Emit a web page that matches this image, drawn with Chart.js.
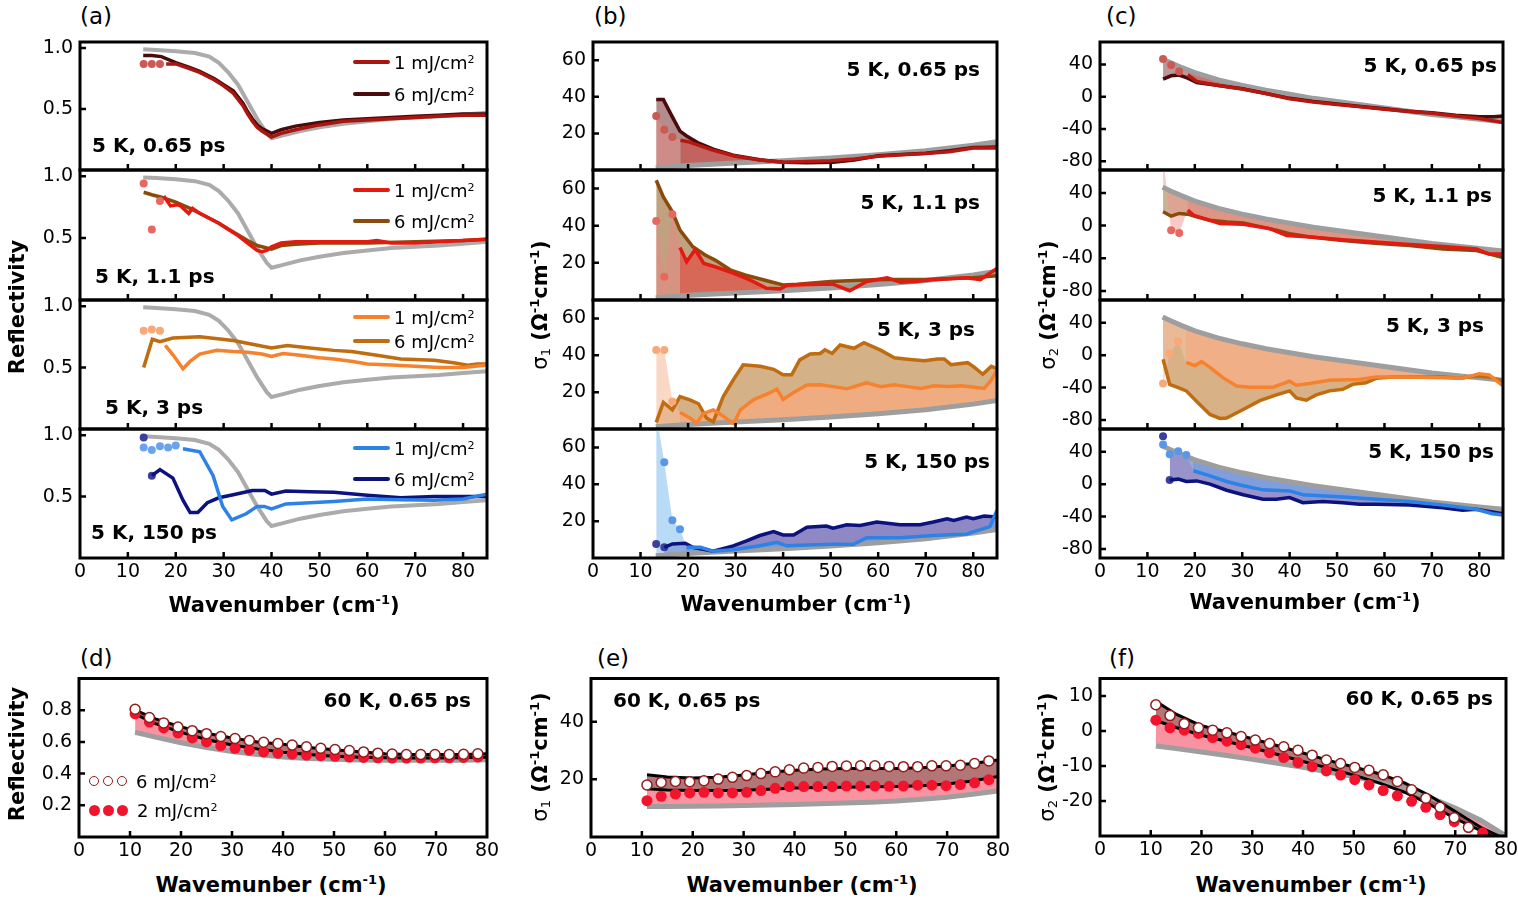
<!DOCTYPE html>
<html>
<head>
<meta charset="utf-8">
<script src="https://cdn.jsdelivr.net/npm/chart.js@4.4.1/dist/chart.umd.min.js"></script>
<style>
html,body{margin:0;padding:0;background:#fff}
body{position:relative;width:1518px;height:905px;overflow:hidden;font-family:'DejaVu Sans',sans-serif;color:#000}
canvas{position:absolute;z-index:1}
.t{position:absolute;white-space:nowrap;line-height:1;z-index:2}
.ann{font-weight:bold;font-size:20px}
.lab{font-size:23px}
.ttl{font-weight:bold;font-size:21px}
.lg{font-size:18px}
.bar{position:absolute;height:4px;width:37px;z-index:2;border-radius:2px}
.dot{position:absolute;width:10px;height:10px;border-radius:50%;box-sizing:border-box;z-index:2}
sup{font-size:0.62em;vertical-align:0.55em;line-height:0}
sub{font-size:0.62em;vertical-align:-0.25em;line-height:0}
.n{font-weight:normal}
</style>
</head>
<body>
<script>
// ---------------- DATA ----------------
// tick values
const xTicks = [0,10,20,30,40,50,60,70,80];
const aTicks = [0.5,1.0];
const bTicks = [20,40,60];
const cTicks = [-80,-40,0,40];
const dTicks = [0.2,0.4,0.6,0.8];
const eTicks = [20,40];
const fTicks = [-20,-10,0,10];
const delays = ['0.65 ps','1.1 ps','3 ps','150 ps'];

// Panel (a): reflectivity, 5 K
const grayRx = [13.2,16,20,24,27,29,31,33,35,37,39,40,42,46,50,55,60,65,70,75,80,85];
const grayR  = [0.99,0.985,0.975,0.96,0.93,0.88,0.80,0.70,0.56,0.42,0.30,0.26,0.28,0.32,0.35,0.38,0.40,0.42,0.43,0.44,0.455,0.47];

const a1_6x = [13.2,15,17,20,23,25,28,30,32,34,35,36,37,38,40,42,45,50,55,60,65,70,75,80,85];
const a1_6  = [0.94,0.94,0.93,0.88,0.84,0.81,0.75,0.70,0.65,0.55,0.48,0.42,0.37,0.34,0.30,0.33,0.36,0.39,0.41,0.42,0.43,0.44,0.45,0.46,0.46];
const a1_1x = [18,20,23,25,28,30,32,34,35,36,37,38,40,42,45,50,55,60,65,70,75,80,85];
const a1_1  = [0.87,0.87,0.83,0.80,0.74,0.69,0.63,0.53,0.46,0.40,0.35,0.32,0.27,0.30,0.33,0.37,0.40,0.41,0.42,0.43,0.44,0.45,0.45];
const a1_1dx = [13.3,15,16.7];
const a1_1d  = [0.87,0.87,0.87];

const a2_6x = [13.3,15,17,20,23,26,29,32,35,37,40,42,45,50,60,70,80,85];
const a2_6  = [0.87,0.85,0.83,0.79,0.74,0.68,0.62,0.55,0.48,0.44,0.41,0.44,0.45,0.46,0.46,0.47,0.48,0.49];
const a2_1x = [17.5,18.9,20.3,21,22.7,23.5,25,27,29,31,33,35,37,38,39,40,42,45,50,55,60,62,65,70,75,80,85];
const a2_1  = [0.84,0.76,0.77,0.76,0.70,0.74,0.70,0.66,0.62,0.57,0.52,0.46,0.40,0.39,0.40,0.43,0.46,0.47,0.47,0.47,0.47,0.48,0.46,0.46,0.47,0.48,0.49];
const a2_1dx = [13.3,15,16.7];
const a2_1d  = [0.94,0.57,0.80];

const a3_6x = [13.3,15.1,16.7,19.4,25,32,36,40,43.3,48,53,56.7,62,67,74,78,81,83,85];
const a3_6  = [0.50,0.73,0.71,0.74,0.75,0.72,0.69,0.66,0.68,0.66,0.64,0.63,0.60,0.57,0.56,0.54,0.52,0.53,0.53];
const a3_1x = [17.8,19.5,21.5,23,25,28.6,32,35,38,40,42.4,46,50,53,57,60,65,70,75,80,85];
const a3_1  = [0.68,0.60,0.49,0.55,0.61,0.64,0.63,0.625,0.61,0.59,0.615,0.60,0.58,0.57,0.55,0.53,0.52,0.51,0.50,0.50,0.52];
const a3_1dx = [13.3,15,16.7];
const a3_1d  = [0.80,0.81,0.80];

const a4_6x = [15,16.7,19.4,21.5,23,24.6,26.6,29,32,36,38.6,40,43,48,53,60,67,74,80,85];
const a4_6  = [0.67,0.72,0.65,0.47,0.37,0.37,0.45,0.49,0.515,0.55,0.55,0.52,0.545,0.54,0.535,0.51,0.49,0.50,0.50,0.50];
const a4_6dx = [13.3,15];
const a4_6d  = [0.98,0.67];
const a4_1x = [21.5,25,27.8,29.8,31.7,34.7,37,38.5,40,43,48,53,60,67,74,80,85];
const a4_1  = [0.89,0.865,0.67,0.42,0.31,0.36,0.42,0.42,0.40,0.44,0.45,0.46,0.48,0.475,0.47,0.48,0.52];
const a4_1dx = [13.3,15,16.7,18.4,20];
const a4_1d  = [0.90,0.88,0.91,0.90,0.915];

// Panel (b): sigma1, 5 K
const grayS1x = [13.2,20,30,40,50,60,70,80,85];
const grayS1  = [1.2,2.5,3.8,5.0,6.5,8.3,10.5,13.5,15.5];

const b1_6x = [13.3,14.8,16.5,18.3,19.7,22,25.3,29.5,35.1,40,45,50.5,55,60,65,70,75,80,85];
const b1_6  = [38.5,38.5,30,21.3,18.6,15,11.4,8.1,5.6,4.2,4.0,4.3,5.5,7.8,8.5,9.2,10.5,12.3,12.5];
const b1_1x = [18.4,20,25,30,35,40,45,50,55,60,65,70,75,80,85];
const b1_1  = [16.3,15.5,11,7.5,5.5,4.3,4.6,5,6,7.5,8.3,9,10,12,12];
const b1_1dx = [13.3,15,16.7];
const b1_1d  = [29.5,22,18];

const b2_6x = [13.3,14.8,16.7,18.3,21,23.6,25.7,29,32,36,40,43,50,60,70,80,85];
const b2_6  = [64.5,55.5,47.5,37.6,28.7,24.2,21.5,16,13.5,10.8,8.1,8.5,10,11,11,12,13];
const b2_1x = [18.3,19.7,21.5,23.3,25.7,29.5,33,36.5,39.4,40.8,45,50.5,54,57.6,61.9,64.7,68,71.6,75,78.6,81.5,85];
const b2_1  = [28.3,20.6,27.2,19.7,17.9,14.5,10.8,6.3,6,8,8.5,8.5,5,10,12,9.5,10,11,11.5,12,11,17];
const b2_1dx = [13.3,15,16.7];
const b2_1d  = [42.6,12.5,46.2];

const b3_6x = [13.3,14.8,16.7,18.3,20.4,22.2,23.9,25.3,27.4,29.5,31.6,35.2,38,40,41.8,43.5,45.7,47.8,48.8,50.3,52,54.9,57,60.5,63.4,66.2,69.7,72.5,73.9,75.3,78.8,80.2,82,83.8,85];
const b3_6  = [3.6,14.4,10.4,17.6,15.8,13.7,5.9,3.8,17.6,26.6,34.8,34,32.4,29.4,29.4,37.5,40.7,41,43,41,45.6,43.8,46.8,42.8,38.6,37.9,37.1,38,38,34.9,36,33.6,29.7,34,32.8];
const b3_1x = [18.3,20.4,21.8,23.2,25.3,27.1,28.9,29.6,31,33.8,36.6,38.7,40,42.2,45,47.8,50.5,53.4,56.2,57.6,60.5,63.4,66.2,69,71.8,74.7,77.5,80.2,82.3,83.8,85];
const b3_1  = [9,6,3.2,8.3,10.4,7.5,4,3,10.4,16,18.9,21.6,16,19.8,23.9,24,23,21.8,24,25,23,24,23,22,23.4,23,23.4,22.7,22,26.6,32];
const b3_1dx = [13.3,15,16.7];
const b3_1d  = [42.9,42.9,14.9];

const b4_6x = [15,16.7,19.4,21,25.3,29.5,32.3,35.1,38,40,42.2,45,49.1,50.5,53.4,56.2,59.7,64.6,68.8,71.6,74.5,75.9,78.6,80,82.3,85];
const b4_6  = [5.8,7.6,8,5.8,3.7,6.6,9.3,12.2,14.3,12.5,12.5,16.7,17.3,16.2,18,17.6,19.5,18,18,19.5,21.3,20.4,22.2,21.3,22.8,22.2];
const b4_6dx = [13.3,15];
const b4_6d  = [7.6,5.8];
const b4_1x = [19.7,22.6,25.3,29.5,35.1,38.7,40.8,45,50.5,54.8,57.6,64.6,71.6,78.6,83.5,85];
const b4_1  = [5.8,5.8,3.7,4.5,6.6,8.5,6.6,7,7.4,7.4,11,11,12.2,13,17,26];
const b4_1dx = [13.3,15,16.7,18.3];
const b4_1d  = [78,52,20.5,15.6];

// Panel (c): sigma2, 5 K
const grayS2x = [13.2,15,17,20,25,30,35,40,45,50,55,60,65,70,75,80,85];
const grayS2  = [47,42,37,30,21,14,8,3,-2,-6,-10,-14,-18,-22,-25,-28,-31];

const c1_6x = [13.3,15,16.7,18.5,20.4,25,30,35,40,45,50,55,60,65,70,75,80,83,85];
const c1_6  = [22,26,27,23,17.7,14,10,4,-2,-6,-9,-12,-15,-18,-20,-23,-25,-25,-24];
const c1_1x = [18.5,20.4,25,30,35,40,45,50,55,60,65,70,75,80,85];
const c1_1  = [27,19,14,9.5,4,-2.5,-6.5,-9.5,-12.5,-15.5,-18,-20.5,-24,-27,-32];
const c1_1dx = [13.3,15,16.7];
const c1_1d  = [46.8,39.3,31.4];

const c2_6x = [13.3,15,16.7,18.5,20.4,23.2,26.8,30.2,37.4,40,44.4,51.2,58,65.3,72.3,79.4,85];
const c2_6  = [16.9,11.5,14.9,14,10.7,6.6,4.5,3.2,-5.8,-10,-14,-18.2,-21.5,-24.4,-28.6,-30.6,-39];
const c2_1x = [18.5,19.7,23,25.3,30.2,35.8,39.4,44.4,51.2,58,65.3,72.3,79.4,82,85];
const c2_1  = [19,12.8,6.6,2.5,1.6,-3.7,-12,-14,-17.4,-20,-23,-25.7,-28.6,-34.7,-34.7];
const c2_1dx = [13.3,15,16.7];
const c2_1d  = [85,-5.8,-9];

const c3_6x = [13.3,14.7,16.5,18.2,20.4,23.2,25.3,26.7,30.2,33.7,37.2,40,41.4,43.5,45.6,48.4,51.2,53.3,56.1,58.2,61.8,65.3,72.3,75.8,79.3,82.1,85];
const c3_6  = [-5,-36,-40,-44,-57,-73,-78,-77.4,-67,-56,-49,-44,-52.6,-55.5,-49,-44,-42,-36,-34,-28.5,-27,-27,-27,-28.5,-25.7,-27,-32];
const c3_1x = [18.2,20,21.4,23.2,26,28.8,31.6,36.5,40,41.4,44.2,48.4,54.7,58.2,65.3,72.3,76.5,80,82.1,85];
const c3_1  = [-9,-13,-8,-15,-28,-38,-39.4,-39.4,-32,-37,-35,-31,-30,-27,-27,-27.8,-28.5,-22.8,-24.3,-38];
const c3_1dx = [13.3,14.7,16.5];
const c3_1d  = [-35,2,17];

const c4_6x = [14.7,16.5,18.2,20.4,23.2,26.7,30.2,34.4,37.2,40,42.8,47,51.2,54.7,58.2,65.3,72.3,76.5,79.3,85];
const c4_6  = [5,6.2,3.3,4,0,-7.5,-13,-18.6,-18.6,-16.6,-22.8,-21.5,-22.8,-24.8,-24.8,-25.7,-29,-32,-31,-36.5];
const c4_6dx = [13.3,14.7];
const c4_6d  = [59,5];
const c4_1x = [19.7,23.2,26.7,30.2,34.4,40,42.8,51.2,58.2,65.3,72.3,79.3,82.8,85];
const c4_1  = [16.5,10.3,3.3,-2,-7,-8.3,-13,-15.7,-18.6,-21.5,-25.7,-31,-36.5,-38];
const c4_1dx = [13.3,14.7,16.5,18.2];
const c4_1d  = [48.8,37,40.5,36];

// Panels (d)-(f): 60 K, 0.65 ps
const wnD = [11.0,13.8,16.6,19.4,22.2,25.0,27.8,30.6,33.4,36.2,39.0,41.8,44.6,47.4,50.2,53.0,55.8,58.6,61.4,64.2,67.0,69.8,72.6,75.4,78.2];
const fitX = [11,15,20,25,30,35,40,45,50,55,60,65,70,75,80];

const d6 = [0.806,0.754,0.72,0.694,0.671,0.652,0.634,0.621,0.609,0.598,0.59,0.58,0.569,0.56,0.552,0.546,0.537,0.529,0.523,0.52,0.52,0.52,0.52,0.522,0.525];
const d2 = [0.777,0.725,0.688,0.656,0.625,0.60,0.577,0.56,0.548,0.537,0.529,0.523,0.517,0.513,0.509,0.504,0.502,0.50,0.498,0.498,0.498,0.50,0.50,0.502,0.504];
const dFit6 = [0.80,0.745,0.695,0.655,0.625,0.60,0.585,0.565,0.55,0.538,0.525,0.52,0.52,0.52,0.525];
const dFit2 = [0.775,0.715,0.66,0.615,0.58,0.555,0.535,0.52,0.51,0.503,0.50,0.498,0.498,0.50,0.503];
const dGray = [0.66,0.63,0.595,0.565,0.54,0.52,0.505,0.495,0.49,0.486,0.484,0.484,0.484,0.485,0.487];

const e6 = [18.05,18.9,19.3,19.2,19.5,20.1,20.7,21.3,22,22.6,23.3,23.9,24.1,24.5,24.6,24.7,24.7,24.5,24.4,24.4,24.7,24.7,24.9,25.5,26.4];
const e2 = [12.6,14.1,14.9,15.3,15.5,15.3,15.3,15.5,16.1,16.9,17.5,17.5,17.5,17.5,17.7,17.7,17.7,17.6,17.7,18,18,17.8,18.2,18.8,19.9];
const eFit6 = [21.6,20.8,20.5,20.7,21.5,22.5,23.2,23.6,23.8,23.8,23.8,24,24.6,25.5,26.7];
const eFit2 = [16.7,16.3,16.1,16.1,16.2,16.6,17,17.2,17.3,17.4,17.5,17.8,18.4,19.4,21];
const eGray = [10.6,10.6,10.7,10.8,10.9,11.1,11.3,11.5,11.8,12.1,12.5,13.1,13.8,14.8,16];

const f6 = [7.5,4.4,2.1,0.9,0.25,-0.5,-1.6,-2.6,-3.6,-4.5,-5.5,-6.9,-8.3,-9.3,-10.4,-11.2,-12.5,-14.4,-16.8,-19.2,-21.8,-24.8,-27.5];
const f2 = [3.1,0.9,0.25,-0.7,-1.9,-2.9,-3.9,-4.9,-6.2,-7.6,-9,-10.2,-11.4,-12.6,-13.9,-15.4,-17,-18.5,-20.1,-21.8,-23.9,-25.9,-27.6,-29.1];
const fFit6 = [8.5,4.8,1.5,-0.3,-2.2,-4.2,-6.3,-8.4,-10.3,-12.2,-14.8,-18.5,-23,-27.5,-31];
const fFit2 = [3,1,-1.2,-3,-4.8,-6.7,-8.7,-10.6,-12.6,-14.8,-17.5,-21,-25,-28.5,-32];
const fGray = [-4.3,-5,-6,-7,-8.1,-9.2,-10.4,-11.7,-13,-14.6,-16.5,-19,-22,-25.5,-30];

// ---------------- RENDERING ----------------
const FONT = "'DejaVu Sans', sans-serif";
const TICK = 19;
Chart.defaults.font.family = FONT;

const framePlugin = {
  id: 'frame',
  afterDatasetsDraw(chart) {
    const {ctx, chartArea: a, scales: {x, y}} = chart;
    ctx.save();
    ctx.strokeStyle = '#000';
    ctx.lineWidth = 2.5;
    ctx.beginPath();
    x.ticks.forEach(t => { const px = x.getPixelForValue(t.value); if (px > a.left + 3 && px < a.right - 3) { ctx.moveTo(px, a.bottom); ctx.lineTo(px, a.bottom - 6); } });
    y.ticks.forEach(t => { const py = y.getPixelForValue(t.value); if (py > a.top + 3 && py < a.bottom - 3) { ctx.moveTo(a.left, py); ctx.lineTo(a.left + 6, py); } });
    ctx.stroke();
    ctx.lineWidth = 3;
    ctx.strokeRect(a.left, a.top, a.right - a.left, a.bottom - a.top);
    ctx.restore();
  }
};

function ds(xs, ys, o) {
  return Object.assign({
    data: xs.map((x, i) => ({x: x, y: ys[i]})),
    pointRadius: 0, borderWidth: 0, borderColor: 'transparent',
    backgroundColor: 'transparent', fill: false, tension: 0
  }, o);
}

function makeChart(rect, cfg, datasets) {
  const LW = 52, PT = 5, PR = cfg.showX ? 18 : 5, BH = cfg.showX ? 34 : 5;
  const cv = document.createElement('canvas');
  cv.width = rect.w + LW + PR; cv.height = rect.h + PT + BH;
  cv.style.left = (rect.l - LW) + 'px'; cv.style.top = (rect.t - PT) + 'px';
  cv.style.width = cv.width + 'px'; cv.style.height = cv.height + 'px';
  document.body.appendChild(cv);
  new Chart(cv, {
    type: 'line',
    data: {datasets: datasets},
    options: {
      responsive: false, animation: false, devicePixelRatio: 1, events: [],
      layout: {padding: {left: 0, right: PR, top: PT, bottom: 0}},
      plugins: {legend: {display: false}, tooltip: {enabled: false},
                filler: {drawTime: 'beforeDatasetsDraw', propagate: false}},
      scales: {
        x: {type: 'linear', min: 0, max: cfg.xmax,
            grid: {display: false, drawTicks: false}, border: {display: false},
            ticks: {display: !!cfg.showX, autoSkip: false, maxRotation: 0, padding: 3, color: '#000',
                    font: {size: TICK, family: FONT}, callback: v => String(v)},
            afterBuildTicks(s) { s.ticks = xTicks.map(v => ({value: v})); },
            afterFit(s) { s.height = BH; s.paddingLeft = 0; s.paddingRight = 0; }},
        y: {type: 'linear', min: cfg.ymin, max: cfg.ymax,
            grid: {display: false, drawTicks: false}, border: {display: false},
            ticks: {autoSkip: false, padding: 7, color: '#000', font: {size: TICK, family: FONT},
                    callback: cfg.yfmt},
            afterBuildTicks(s) { s.ticks = cfg.yticks.map(v => ({value: v})); },
            afterFit(s) { s.width = LW; s.paddingTop = 0; s.paddingBottom = 0; }}
      }
    },
    plugins: [framePlugin]
  });
}

// top-row panel: 0 line1, 1 dots1, 2 line6, 3 dots6, 4 gray
function topSets(S, gx, gy, gcol, gw) {
  const sets = [];
  sets.push(ds(S.x1, S.y1, {borderColor: S.c1, borderWidth: 3.5, fill: S.f1 ? 4 : false, backgroundColor: S.f1 || 'transparent'}));
  const jx = S.fd1 ? S.dx1.concat([S.x1[0]]) : S.dx1;
  const jy = S.fd1 ? S.dy1.concat([S.y1[0]]) : S.dy1;
  sets.push(ds(jx, jy, {pointRadius: jx.map((_, i) => i < S.dx1.length ? 4 : 0), pointBackgroundColor: S.dc1,
                        pointBorderWidth: 0, fill: S.fd1 ? 4 : false, backgroundColor: S.fd1 || 'transparent'}));
  sets.push(ds(S.x6, S.y6, {borderColor: S.c6, borderWidth: 3.5, fill: S.f6 ? 4 : false, backgroundColor: S.f6 || 'transparent'}));
  const dx6 = S.dx6 || [], dy6 = S.dy6 || [];
  sets.push(ds(dx6, dy6, {pointRadius: 4, pointBackgroundColor: S.dc6 || S.c6, pointBorderWidth: 0}));
  sets.push(ds(gx, gy, {borderColor: gcol, borderWidth: gw}));
  return sets;
}

const rowT = [42, 170, 300, 429], rowH = [128, 130, 129, 129];
const colA = {l: 80, w: 407}, colB = {l: 593, w: 404}, colC = {l: 1100, w: 403};

const fmt1 = v => v.toFixed(1);
const fmtI = v => String(Math.round(v));

// ---- column (a)
const aS = [
  {x1: a1_1x, y1: a1_1, dx1: a1_1dx, dy1: a1_1d, c1: '#a8160f', dc1: '#cc5a52', x6: a1_6x, y6: a1_6, c6: '#4b0a0c'},
  {x1: a2_1x, y1: a2_1, dx1: a2_1dx, dy1: a2_1d, c1: '#e31a10', dc1: '#e86860', x6: a2_6x, y6: a2_6, c6: '#8a4a0c'},
  {x1: a3_1x, y1: a3_1, dx1: a3_1dx, dy1: a3_1d, c1: '#f7822e', dc1: '#f9a878', x6: a3_6x, y6: a3_6, c6: '#c06c10'},
  {x1: a4_1x, y1: a4_1, dx1: a4_1dx, dy1: a4_1d, c1: '#2d82e6', dc1: '#6aa4ee', x6: a4_6x, y6: a4_6, c6: '#0c137f', dx6: a4_6dx, dy6: a4_6d, dc6: '#3d3f9a'}
];
aS.forEach((S, i) => makeChart({l: colA.l, w: colA.w, t: rowT[i], h: rowH[i]},
  {xmax: 85, ymin: 0, ymax: 1.05, yticks: aTicks, yfmt: fmt1, showX: i === 3},
  topSets(S, grayRx, grayR, '#ababab', 4)));

// ---- column (b)
const bS = [
  {x1: b1_1x, y1: b1_1, dx1: b1_1dx, dy1: b1_1d, c1: '#b8170f', dc1: '#cc5a52', f1: 'rgba(200,85,80,0.75)', fd1: 'rgba(228,140,135,0.55)',
   x6: b1_6x, y6: b1_6, c6: '#4b0a0c', f6: 'rgba(105,25,25,0.5)'},
  {x1: b2_1x, y1: b2_1, dx1: b2_1dx, dy1: b2_1d, c1: '#e31a10', dc1: '#e86860', f1: 'rgba(225,80,70,0.7)', fd1: 'rgba(235,135,130,0.55)',
   x6: b2_6x, y6: b2_6, c6: '#8a4a0c', f6: 'rgba(140,85,25,0.55)'},
  {x1: b3_1x, y1: b3_1, dx1: b3_1dx, dy1: b3_1d, c1: '#f7822e', dc1: '#f9a878', f1: 'rgba(246,172,128,0.85)', fd1: 'rgba(246,190,160,0.6)',
   x6: b3_6x, y6: b3_6, c6: '#c06c10', f6: 'rgba(185,125,55,0.6)'},
  {x1: b4_1x, y1: b4_1, dx1: b4_1dx, dy1: b4_1d, c1: '#2d82e6', dc1: '#5a96ea', f1: 'rgba(100,170,240,0.45)', fd1: 'rgba(140,195,238,0.6)',
   x6: b4_6x, y6: b4_6, c6: '#0c137f', f6: 'rgba(50,40,150,0.55)', dx6: b4_6dx, dy6: b4_6d, dc6: '#3d3f9a'}
];
bS.forEach((S, i) => makeChart({l: colB.l, w: colB.w, t: rowT[i], h: rowH[i]},
  {xmax: 85, ymin: 0, ymax: 70, yticks: bTicks, yfmt: fmtI, showX: i === 3},
  topSets(S, grayS1x, grayS1, '#9e9e9e', 5)));

// ---- column (c)
const cS = [
  {x1: c1_1x, y1: c1_1, dx1: c1_1dx, dy1: c1_1d, c1: '#b8170f', dc1: '#cc5a52', f1: 'rgba(205,95,90,0.6)', fd1: 'rgba(228,140,135,0.5)',
   x6: c1_6x, y6: c1_6, c6: '#4b0a0c', f6: 'rgba(105,25,25,0.45)'},
  {x1: c2_1x, y1: c2_1, dx1: c2_1dx, dy1: c2_1d, c1: '#e31a10', dc1: '#e86860', f1: 'rgba(238,125,120,0.55)', fd1: 'rgba(240,150,145,0.5)',
   x6: c2_6x, y6: c2_6, c6: '#8a4a0c', f6: 'rgba(140,85,25,0.45)'},
  {x1: c3_1x, y1: c3_1, dx1: c3_1dx, dy1: c3_1d, c1: '#f7822e', dc1: '#f9a878', f1: 'rgba(246,175,135,0.8)', fd1: 'rgba(246,190,160,0.6)',
   x6: c3_6x, y6: c3_6, c6: '#c06c10', f6: 'rgba(190,125,55,0.6)'},
  {x1: c4_1x, y1: c4_1, dx1: c4_1dx, dy1: c4_1d, c1: '#2d82e6', dc1: '#5a96ea', f1: 'rgba(100,170,240,0.45)', fd1: 'rgba(140,195,238,0.55)',
   x6: c4_6x, y6: c4_6, c6: '#0c137f', f6: 'rgba(50,40,150,0.5)', dx6: c4_6dx, dy6: c4_6d, dc6: '#3d3f9a'}
];
cS.forEach((S, i) => makeChart({l: colC.l, w: colC.w, t: rowT[i], h: rowH[i]},
  {xmax: 85, ymin: -91, ymax: 68, yticks: cTicks, yfmt: fmtI, showX: i === 3},
  topSets(S, grayS2x, grayS2, '#9e9e9e', 5)));

// ---- bottom panels: 0 open, 1 filled, 2 fit6, 3 fit2, 4 gray
function botSets(o6, o2, ft6, ft2, gr) {
  return [
    ds(wnD.slice(0, o6.length), o6, {pointRadius: 5, pointBackgroundColor: '#ffffff', pointBorderColor: '#921c1c', pointBorderWidth: 1.5}),
    ds(wnD.slice(0, o2.length), o2, {pointRadius: 5.5, pointBackgroundColor: '#f2132d', pointBorderWidth: 0}),
    ds(fitX, ft6, {borderColor: '#000', borderWidth: 3, fill: 3, backgroundColor: 'rgba(150,65,65,0.72)'}),
    ds(fitX, ft2, {borderColor: '#000', borderWidth: 3, fill: 4, backgroundColor: 'rgba(245,105,125,0.72)'}),
    ds(fitX, gr, {borderColor: '#9e9e9e', borderWidth: 5})
  ];
}
makeChart({l: 79, t: 677, w: 408, h: 160}, {xmax: 80, ymin: 0, ymax: 1.0, yticks: dTicks, yfmt: fmt1, showX: true},
  botSets(d6, d2, dFit6, dFit2, dGray));
makeChart({l: 591, t: 677, w: 407, h: 160}, {xmax: 80, ymin: 0, ymax: 55, yticks: eTicks, yfmt: fmtI, showX: true},
  botSets(e6, e2, eFit6, eFit2, eGray));
makeChart({l: 1100, t: 677, w: 406, h: 159}, {xmax: 80, ymin: -30, ymax: 15, yticks: fTicks, yfmt: fmtI, showX: true},
  botSets(f6, f2, fFit6, fFit2, fGray));

// ---------------- TEXT ----------------
function T(html, x, y, cls, ax, rot) {
  const d = document.createElement('div');
  d.className = 't ' + cls; d.innerHTML = html;
  d.style.left = x + 'px'; d.style.top = y + 'px';
  const tx = ax === 'r' ? '-100%' : (ax === 'c' ? '-50%' : '0');
  d.style.transform = 'translate(' + tx + ',-50%)' + (rot ? ' rotate(-90deg)' : '');
  document.body.appendChild(d);
}
// panel labels
T('(a)', 80, 16, 'lab', 'l'); T('(b)', 594, 16, 'lab', 'l'); T('(c)', 1106, 16, 'lab', 'l');
T('(d)', 80, 658, 'lab', 'l'); T('(e)', 597, 658, 'lab', 'l'); T('(f)', 1109, 658, 'lab', 'l');

// annotations
const annA = [[92, 145], [95, 276], [105, 407], [91, 532]];
annA.forEach((p, i) => T('5 K, ' + delays[i], p[0], p[1], 'ann', 'l'));
const annB = [[980, 69], [980, 202], [975, 329], [990, 461]];
annB.forEach((p, i) => T('5 K, ' + delays[i], p[0], p[1], 'ann', 'r'));
const annC = [[1497, 65], [1492, 195], [1484, 325], [1494, 451]];
annC.forEach((p, i) => T('5 K, ' + delays[i], p[0], p[1], 'ann', 'r'));
T('60 K, 0.65 ps', 471, 700, 'ann', 'r');
T('60 K, 0.65 ps', 613, 700, 'ann', 'l');
T('60 K, 0.65 ps', 1493, 698, 'ann', 'r');

// legends in (a)
const legY = [[62, 94], [190, 221], [317, 341], [448, 479]];
aS.forEach((S, i) => {
  [[S.c1, '1'], [S.c6, '6']].forEach((e, k) => {
    const b = document.createElement('div'); b.className = 'bar';
    b.style.left = '353px'; b.style.top = (legY[i][k] - 2) + 'px'; b.style.background = e[0];
    document.body.appendChild(b);
    T(e[1] + ' mJ/cm<sup>2</sup>', 394, legY[i][k] + 1, 'lg', 'l');
  });
});
// legend in (d)
[94, 108, 122].forEach(cx => {
  const o = document.createElement('div'); o.className = 'dot';
  o.style.left = (cx - 5) + 'px'; o.style.top = '776px'; o.style.border = '1.5px solid #921c1c'; o.style.background = '#fff';
  document.body.appendChild(o);
  const f = document.createElement('div'); f.className = 'dot';
  f.style.left = (cx - 5.5) + 'px'; f.style.top = '804.5px'; f.style.width = '11px'; f.style.height = '11px'; f.style.background = '#f2132d';
  document.body.appendChild(f);
});
T('6 mJ/cm<sup>2</sup>', 136, 782, 'lg', 'l');
T('2 mJ/cm<sup>2</sup>', 137, 811, 'lg', 'l');

// axis titles
const s1 = '<span class="n">σ<sub>1</sub></span> (Ω<sup>-1</sup>cm<sup>-1</sup>)';
const s2 = '<span class="n">σ<sub>2</sub></span> (Ω<sup>-1</sup>cm<sup>-1</sup>)';
T('Reflectivity', 17, 307, 'ttl', 'c', true);
T(s1, 540, 305, 'ttl', 'c', true);
T(s2, 1048, 305, 'ttl', 'c', true);
T('Reflectivity', 17, 754, 'ttl', 'c', true);
T(s1, 540, 757, 'ttl', 'c', true);
T(s2, 1047, 757, 'ttl', 'c', true);
T('Wavenumber (cm<sup>-1</sup>)', 284, 605, 'ttl', 'c');
T('Wavenumber (cm<sup>-1</sup>)', 796, 604, 'ttl', 'c');
T('Wavenumber (cm<sup>-1</sup>)', 1305, 602, 'ttl', 'c');
T('Wavemunber (cm<sup>-1</sup>)', 271, 885, 'ttl', 'c');
T('Wavemunber (cm<sup>-1</sup>)', 802, 885, 'ttl', 'c');
T('Wavenumber (cm<sup>-1</sup>)', 1311, 885, 'ttl', 'c');
</script>
</body>
</html>
